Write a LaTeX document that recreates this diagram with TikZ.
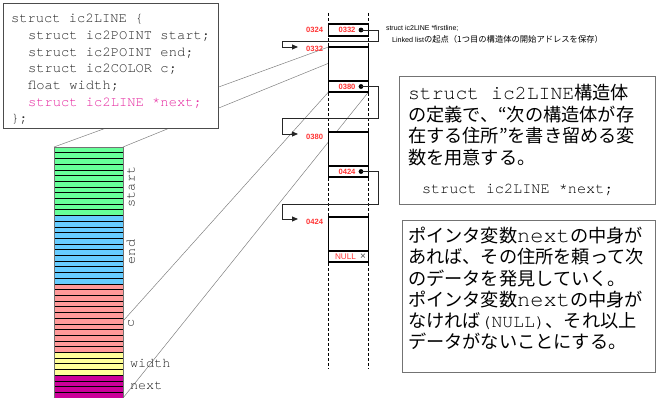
\documentclass[tikz,border=0pt]{standalone}
\usepackage{fontspec}
\setmainfont{Liberation Sans}
\newfontfamily\monof{TeX Gyre Cursor}
\newfontfamily\jpplain{Noto Sans CJK JP}
\usetikzlibrary{arrows.meta,backgrounds}
\definecolor{cgreen}{RGB}{102,255,153}
\definecolor{cblue}{RGB}{102,204,255}
\definecolor{cpink}{RGB}{255,153,153}
\definecolor{cyellow}{RGB}{255,255,153}
\definecolor{cmag}{RGB}{204,0,153}
\definecolor{codemag}{RGB}{230,40,160}
\definecolor{addr}{RGB}{255,51,51}
\newcommand\bigmono{\monof\fontsize{19.8}{22}\selectfont}
\newcommand\midmono{\monof\fontsize{22}{22}\selectfont}
\newcommand\smallmono{\monof\fontsize{18}{18}\selectfont}
\newcommand\jpbig{\jpplain\fontsize{18.2}{22}\selectfont}
\newcommand\stripeset[3]{\foreach \i in {#1,...,#2}{\filldraw[stripe,fill=#3] (54,{147+\i*5.7045}) rectangle (123,{147+(\i+1)*5.7045});}}
\begin{document}
\begin{tikzpicture}[x=1pt,y=-1pt,
  every node/.style={inner sep=0pt,outer sep=0pt},
  stripe/.style={draw=black,line width=0.6pt},
  codetxt/.style={anchor=base west,font=\monof\fontsize{13.8}{16}\selectfont,text=black!85},
  collab/.style={font=\monof\fontsize{13.5}{15}\selectfont,text=black!85},
  sbox/.style={draw=black,line width=1.3pt,fill=white,minimum width=40pt},
  dot/.style={circle,fill=black,minimum size=4.8pt},
  addrtxt/.style={font=\bfseries\fontsize{7.6}{9}\selectfont,text=addr},
  ptrline/.style={draw=black!85,line width=0.9pt,-{Triangle[length=6pt,width=5pt]}},
  dashln/.style={draw=black,line width=0.7pt,dash pattern=on 3pt off 2pt},
  diag/.style={draw=black!50,line width=0.5pt},
  tbox/.style={draw=black!55,line width=0.8pt,fill=white},
  jptxt/.style={anchor=base west,font=\jpbig,text=black}
]
\useasboundingbox (0,0) rectangle (656,398);

% memory column
\stripeset{0}{11}{cgreen}
\stripeset{12}{23}{cblue}
\stripeset{24}{35}{cpink}
\stripeset{36}{39}{cyellow}
\stripeset{40}{43}{cmag}
\node[draw=black!55,line width=0.8pt,minimum width=69pt,minimum height=251pt] (col) at (88.5,272.5) {};
\node[collab,rotate=90] (lstart) at (131,187) {start};
\node[collab,rotate=90] (lend) at (131,252) {end};
\node[collab,rotate=90] (lc) at (131,323) {c};
\node[collab,anchor=west] (lwidth) at (130,363) {width};
\node[collab,anchor=west] (lnext) at (130,386) {next};

% code box
\node[tbox,draw=black!70,minimum width=215pt,minimum height=125pt] (code) at (110.5,65.5) {};
\node[codetxt] (c1) at (11,22.7) {struct ic2LINE \{};
\node[codetxt] (c2) at (28,39.4) {struct ic2POINT start;};
\node[codetxt] (c3) at (28,56.1) {struct ic2POINT end;};
\node[codetxt] (c4) at (28,72.8) {struct ic2COLOR c;};
\node[codetxt] (c5) at (28,89.5) {float width;};
\node[codetxt,text=codemag] (c6) at (28,106.2) {struct ic2LINE *next;};
\node[codetxt] (c7) at (11,122.9) {\};};

% dashed guides
\coordinate (dla) at (328.5,13);
\coordinate (dlb) at (328.5,369);
\coordinate (dra) at (368.5,13);
\coordinate (drb) at (368.5,369);
\draw[dashln] (dla) -- (dlb);
\draw[dashln] (dra) -- (drb);

% pointer variable firstline
\node[sbox,minimum height=12pt] (p0) at (348.5,30) {};
\node[addrtxt] (t0) at (347,30) {0332};
\node[dot] (d0) at (361,30) {};
\node[addrtxt,anchor=east] (a0) at (323,29.5) {0324};

% struct 1
\node[sbox,minimum height=45pt] (s1) at (348.5,69.5) {};
\node[sbox,minimum height=11pt] (n1) at (348.5,86.5) {};
\node[addrtxt] (t1) at (347,86.5) {0380};
\node[dot] (d1) at (361,86.5) {};
\node[addrtxt,anchor=east] (a1) at (323,49) {0332};

% struct 2
\node[sbox,minimum height=45pt] (s2) at (348.5,154.5) {};
\node[sbox,minimum height=11pt] (n2) at (348.5,171.5) {};
\node[addrtxt] (t2) at (347,171.5) {0424};
\node[dot] (d2) at (361,171.5) {};
\node[addrtxt,anchor=east] (a2) at (323,137) {0380};

% struct 3
\node[sbox,minimum height=45pt] (s3) at (348.5,239.5) {};
\node[sbox,minimum height=11pt] (n3) at (348.5,256.5) {};
\node[font=\fontsize{8.2}{9}\selectfont,text=addr] (t3) at (345.5,257) {NULL};
\node[font=\fontsize{10}{10}\selectfont,text=black!70] (x3) at (363,256.5) {×};
\node[addrtxt,anchor=east] (a3) at (323,222) {0424};

% pointer arrows
\coordinate (e0) at (298,47);
\coordinate (e1) at (298,134);
\coordinate (e2) at (298,219);
\draw[ptrline] (d0.center) -| (378,41.5) -| (282,47) -- (e0);
\draw[ptrline] (d1.center) -| (378,118.5) -| (282,134) -- (e1);
\draw[ptrline] (d2.center) -| (378,204) -| (282,219) -- (e2);

% firstline note
\node[anchor=base west,font=\fontsize{7}{8}\selectfont] (fl1) at (386,30.5) {struct ic2LINE *firstline;};
\node[anchor=base west,font=\fontsize{7.2}{8}\selectfont] (fl2) at (392,42.5) {Linked list{\jpplain\fontsize{8.3}{9}\selectfont の起点（1つ目の構造体の開始アドレスを保存）}};

% right box 1
\node[tbox,minimum width=256pt,minimum height=128pt] (b1) at (527,140) {};
\node[jptxt] (b1a) at (408,99.5) {{\bigmono struct ic2LINE}構造体};
\node[jptxt] (b1b) at (408,121.2) {の定義で、“次の構造体が存};
\node[jptxt] (b1c) at (408,142.9) {在する住所”を書き留める変};
\node[jptxt] (b1d) at (408,164.6) {数を用意する。};
\node[anchor=base west,font=\monof\fontsize{15.2}{17}\selectfont] (b1e) at (422,194) {struct ic2LINE *next;};

% right box 2
\node[tbox,minimum width=253pt,minimum height=152pt] (b2) at (528.5,296) {};
\node[jptxt] (b2a) at (408,243) {ポインタ変数{\midmono next}の中身が};
\node[jptxt] (b2b) at (408,264) {あれば、その住所を頼って次};
\node[jptxt] (b2c) at (408,285) {のデータを発見していく。};
\node[jptxt] (b2d) at (408,306) {ポインタ変数{\midmono next}の中身が};
\node[jptxt] (b2e) at (408,327) {なければ{\smallmono (NULL)}、それ以上};
\node[jptxt] (b2f) at (408,348) {データがないことにする。};

% projection lines
\begin{scope}[on background layer]
\draw[diag] (col.north west) -- (s1.north west);
\draw[diag] (col.north east) -- (s1.north east);
\draw[diag] (col.south west) -- (s1.south west);
\draw[diag] (col.south east) -- (s1.south east);
\end{scope}
\end{tikzpicture}
\end{document}
